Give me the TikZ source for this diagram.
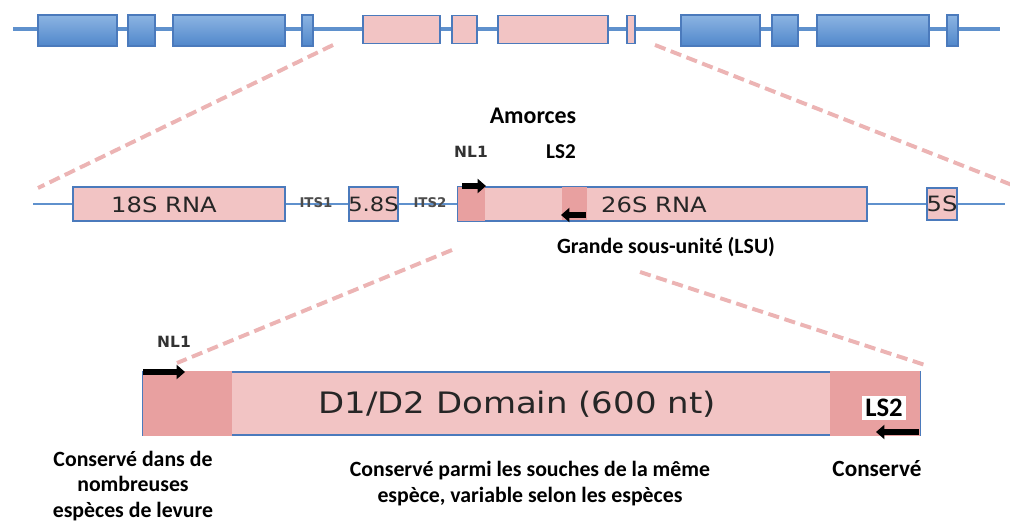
\documentclass[tikz,border=0pt]{standalone}
\usepackage{fontspec}
\setmainfont{Carlito}
\newfontfamily\boxfont[FakeStretch=1.15]{DejaVu Sans}
\newfontfamily\primfont{DejaVu Sans}
\usetikzlibrary{positioning,arrows.meta}

\definecolor{exonblue}{RGB}{80,135,203}
\definecolor{exontop}{RGB}{140,180,226}
\definecolor{exonedge}{RGB}{75,122,188}
\definecolor{rnapink}{RGB}{242,196,196}
\definecolor{rnadark}{RGB}{232,160,160}
\definecolor{zoompink}{RGB}{236,180,180}
\definecolor{backbone}{RGB}{95,145,205}
\definecolor{primgrey}{RGB}{50,50,50}

\begin{document}
\begin{tikzpicture}[x=0.025cm,y=-0.025cm,
  bluebox/.style={draw=exonedge,line width=1pt,top color=exontop,bottom color=exonblue,
    inner sep=0pt,outer sep=0pt},
  pinkbox/.style={draw=exonedge,line width=1pt,fill=rnapink,inner sep=0pt,outer sep=0pt},
  darkpart/.style={fill=rnadark,inner sep=0pt,outer sep=0pt},
  gene/.style={draw=backbone,line width=2.2pt},
  zoom/.style={draw=zoompink,line width=2.8pt,dash pattern=on 8pt off 4pt},
  primer/.style={draw=black,line width=3.6pt,-{Triangle[length=6pt,width=10pt]}},
  rnalabel/.style={font=\boxfont\fontsize{15}{18}\selectfont,text=black!85,inner sep=0pt},
  itslabel/.style={font=\primfont\bfseries\fontsize{9.5}{11}\selectfont,text=black!70,inner sep=0pt},
  primname/.style={font=\primfont\bfseries\fontsize{11}{13}\selectfont,text=primgrey,inner sep=1pt},
  note/.style={font=\bfseries\fontsize{15.5}{18.5}\selectfont,align=center,fill=white,inner sep=1pt}]

\useasboundingbox (0,0) rectangle (1010,523);

% whole rDNA unit
\coordinate (g0) at (13,29);
\coordinate (g1) at (1000,29);
\draw[gene] (g0) -- (g1);
\foreach \a/\b/\nm in {38/117/e1,128/155/e2,173/285/e3,302/313/e4,681/760/e9,772/798/e10,817/929/e11,947/958/e12}
  \node[bluebox,minimum width={(\b-\a)*0.025cm},minimum height={31*0.025cm}] (\nm) at ({(\a+\b)/2},30.5) {};
\foreach \a/\b/\nm in {363/440/e5,452/477/e6,498/608/e7,627/635/e8}
  \node[pinkbox,minimum width={(\b-\a)*0.025cm},minimum height={28*0.025cm}] (\nm) at ({(\a+\b)/2},29.5) {};

% zoom lines
\coordinate (z1) at (333,45);
\coordinate (z2) at (38,188);
\coordinate (z3) at (655,45);
\coordinate (z4) at (1012,185);
\draw[zoom] (z1) -- (z2);
\draw[zoom] (z3) -- (z4);

% rRNA operon
\coordinate (r0) at (33,204);
\coordinate (r1) at (1005,204);
\draw[gene,line width=1.8pt] (r0) -- (r1);
\node[pinkbox,minimum width={212*0.025cm},minimum height={34*0.025cm}] (s18) at (179,204) {};
\node[pinkbox,minimum width={49*0.025cm},minimum height={34*0.025cm}] (s58) at (373.5,204) {};
\node[pinkbox,minimum width={409*0.025cm},minimum height={34*0.025cm}] (s26) at (662.5,204) {};
\node[darkpart,minimum width={27*0.025cm},minimum height={34*0.025cm}] (nlbox) at (471.5,204.5) {};
\node[darkpart,minimum width={25*0.025cm},minimum height={33*0.025cm}] (lsbox) at (574.5,204) {};
\node[pinkbox,minimum width={30*0.025cm},minimum height={32*0.025cm}] (s5) at (942,204) {};
\node[rnalabel] (t18) at (164,205) {18S RNA};
\node[rnalabel,font=\boxfont\fontsize{14}{17}\selectfont] (t58) at (373.5,204) {5.8S};
\node[rnalabel] (t26) at (654,205) {26S RNA};
\node[rnalabel] (t5) at (942,204) {5S};
\node[itslabel] (its1) at (316,203) {ITS1};
\node[itslabel] (its2) at (430,203) {ITS2};

% primers
\node[font=\bfseries\fontsize{17}{20}\selectfont] (amorces) at (533,116) {Amorces};
\node[primname] (nl1) at (471,152) {NL1};
\node[font=\bfseries\fontsize{15}{18}\selectfont] (ls2) at (561,152) {LS2};
\coordinate (p1) at (462,186);
\coordinate (p2) at (486,186);
\coordinate (p3) at (586,215);
\coordinate (p4) at (561,215);
\draw[primer] (p1) -- (p2);
\draw[primer] (p3) -- (p4);
\node[note,font=\bfseries\fontsize{15.5}{18.5}\selectfont] (lsu) at (666,247) {Grande sous-unit\'e (LSU)};

% zoom lines
\coordinate (z5) at (452,250);
\coordinate (z6) at (177,363);
\coordinate (z7) at (640,272);
\coordinate (z8) at (925,365);
\draw[zoom] (z5) -- (z6);
\draw[zoom] (z7) -- (z8);

% D1/D2 domain
\node[pinkbox,minimum width={777*0.025cm},minimum height={63*0.025cm}] (dom) at (531.5,403.5) {};
\node[darkpart,minimum width={89*0.025cm},minimum height={64*0.025cm}] (left) at (187.5,403.5) {};
\node[darkpart,minimum width={90*0.025cm},minimum height={64*0.025cm}] (right) at (875,403.5) {};
\node[rnalabel,font=\boxfont\fontsize{21}{25}\selectfont] (dlabel) at (517,404) {D1/D2 Domain (600 nt)};
\node[primname] (nl1b) at (174,342) {NL1};
\node[font=\bfseries\fontsize{19}{22}\selectfont,fill=white,inner sep=2pt] (ls2b) at (884,408) {LS2};
\coordinate (q1) at (143,372);
\coordinate (q2) at (185,372);
\coordinate (q3) at (919,432);
\coordinate (q4) at (876,432);
\draw[primer,line width=4.2pt] (q1) -- (q2);
\draw[primer,line width=4.2pt] (q3) -- (q4);

% conservation notes
\node[note,font=\bfseries\fontsize{15.5}{18}\selectfont] (c1) at (133,486) {Conserv\'e dans de\\nombreuses\\esp\`eces de levure};
\node[note] (c2) at (530,484) {Conserv\'e parmi les souches de la m\^eme\\esp\`ece, variable selon les esp\`eces};
\node[note,font=\bfseries\fontsize{16.5}{19}\selectfont] (c3) at (877,469) {Conserv\'e};
\end{tikzpicture}
\end{document}
